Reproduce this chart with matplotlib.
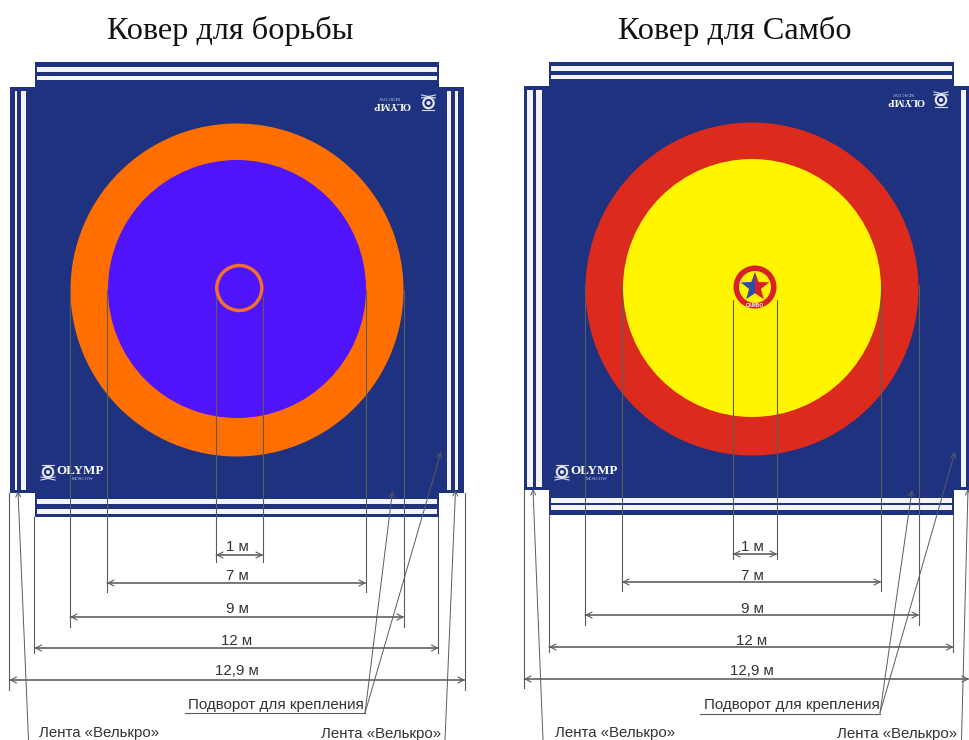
"""Wrestling and sambo mat diagrams, drawn in image pixel coordinates."""

import matplotlib

matplotlib.use("Agg")
import matplotlib.pyplot as plt
import numpy as np
from matplotlib.patches import Circle, Polygon, Rectangle

TITLES = ["Ковер для борьбы", "Ковер для Самбо"]
DIM_LABELS = ["1 м", "7 м", "9 м", "12 м", "12,9 м"]
FLAP_LABEL = "Подворот для крепления"
TAPE_LABEL = "Лента «Велькро»"

# x ends of the dimension lines, one list per mat
LEFT_DIM_X0 = [216, 107, 70, 34.5, 9.5]
LEFT_DIM_X1 = [263, 366, 404, 438.5, 465]
RIGHT_DIM_X0 = [733, 622, 585, 549, 524]
RIGHT_DIM_X1 = [777, 881, 919, 953.5, 969]
LEFT_DIM_Y = [555, 583, 617, 648, 680]
RIGHT_DIM_Y = [554, 582, 615, 647, 679]
DIM_TEXT_Y = [547, 576, 609, 641, 671]

NAVY = "#1e3280"
LINE = "#5c5c5c"
TEXT = "#333333"
STRIPE = "#f4f4fa"
W, H = 969, 740


def rect(ax, x0, y0, x1, y1, color, z=1):
    ax.add_patch(Rectangle((x0, y0), x1 - x0, y1 - y0, fc=color, ec="none", zorder=z))


def draw_logo(ax, x, y, flip=False, scale=1.0, text_dx=32):
    """White OLYMP mark; x, y is the middle of the emblem."""
    sign = -1 if flip else 1
    rot = 180 if flip else 0
    ax.add_patch(Circle((x, y), 5.2, fc="none", ec="#e8e8f2", lw=1.5, zorder=4))
    ax.add_patch(Circle((x, y), 2, fc="#e8e8f2", ec="none", zorder=4))
    ax.plot([x - 7, x + 7], [y + 8 * sign, y + 5 * sign], color="#d8d8e8", lw=0.8, zorder=4)
    ax.plot([x - 7, x + 7], [y + 5 * sign, y + 8 * sign], color="#d8d8e8", lw=0.8, zorder=4)
    ax.plot([x - 6, x + 6], [y - 7 * sign, y - 7 * sign], color="#d8d8e8", lw=0.8, zorder=4)
    ax.text(x + text_dx * sign, y - 1 * sign, "OLYMP", color="white", family="Liberation Serif",
            fontsize=9.4 * scale, fontweight="bold", ha="center", va="center", rotation=rot, zorder=4)
    ax.text(x + (text_dx + 3) * sign, y + 6.5 * sign, "MOSCOW", color="#c9cde0",
            family="Liberation Serif", fontsize=3.5, ha="center", va="center", rotation=rot, zorder=4)


def draw_mat(ax, x0, x1, top, y0, y1, bottom, side, stripes_y, side_left, side_right):
    rect(ax, x0, top, x1, bottom, NAVY)
    rect(ax, x0 - side, y0, x1 + side, y1, NAVY)
    for a, b in stripes_y:
        rect(ax, x0 + 2, a, x1 - 2, b, STRIPE, 2)
    for a, b in side_left + side_right:
        rect(ax, a, y0 + 4, b, y1 - 3, STRIPE, 2)


def draw_dims(ax, xs0, xs1, ys, text_x, starts, ends):
    style = "->,head_length=0.35,head_width=0.18"
    for i, label in enumerate(DIM_LABELS):
        ax.annotate("", xy=(xs0[i], ys[i]), xytext=(xs1[i], ys[i]), zorder=6,
                    arrowprops=dict(arrowstyle=style, color=LINE, lw=0.8,
                                    shrinkA=0, shrinkB=0, mutation_scale=12))
        ax.annotate("", xy=(xs1[i], ys[i]), xytext=(xs0[i], ys[i]), zorder=6,
                    arrowprops=dict(arrowstyle=style, color=LINE, lw=0.8,
                                    shrinkA=0, shrinkB=0, mutation_scale=12))
        ax.plot([xs0[i], xs0[i]], [starts[i], ends[i]], color=LINE, lw=0.8, zorder=5)
        ax.plot([xs1[i], xs1[i]], [starts[i], ends[i]], color=LINE, lw=0.8, zorder=5)
        ax.text(text_x, DIM_TEXT_Y[i], label, fontsize=10.8, color=TEXT, ha="center", va="center")


def leader(ax, start, end):
    ax.annotate("", xy=end, xytext=start, zorder=6,
                arrowprops=dict(arrowstyle="->,head_length=0.3,head_width=0.15", color=LINE,
                                lw=0.7, shrinkA=0, shrinkB=0, mutation_scale=12))


def draw_sambo_emblem(ax, cx, cy):
    ax.add_patch(Circle((cx, cy), 21.5, fc="#d8202a", ec="none", zorder=4))
    ax.add_patch(Circle((cx, cy), 16, fc="#fff200", ec="none", zorder=4))
    angles = np.deg2rad(np.arange(-90, 270, 36))
    radii = np.where(np.arange(10) % 2 == 0, 15, 6.2)
    star = np.column_stack([cx + radii * np.cos(angles), cy + radii * np.sin(angles)])
    ax.add_patch(Polygon(star[[0, 1, 2, 3, 4, 5]], fc="#d8202a", ec="none", zorder=5))
    ax.add_patch(Polygon(star[[5, 6, 7, 8, 9, 0]], fc="#2b4cb0", ec="none", zorder=5))
    ax.text(cx, cy + 18.5, "САМБО", color="white", fontsize=3.4, fontweight="bold",
            ha="center", va="center", zorder=6)


plt.rcParams["font.family"] = ["Liberation Sans", "DejaVu Sans"]
fig = plt.figure(figsize=(W / 100, H / 100), dpi=100)
ax = fig.add_axes([0, 0, 1, 1])
ax.set_xlim(0, W)
ax.set_ylim(H, 0)
ax.axis("off")

ax.text(230, 31, TITLES[0], family="Liberation Serif", fontsize=23.2, color="#111111",
        ha="center", va="center")
ax.text(734.5, 31, TITLES[1], family="Liberation Serif", fontsize=23.2, color="#111111",
        ha="center", va="center")

# wrestling mat
draw_mat(ax, 35, 439, 62, 87, 493, 517, 25,
         [(66.5, 71.5), (75.5, 80), (499, 504), (509, 514)],
         [(15, 17.5), (21, 26)], [(447.5, 451.5), (455, 458)])
ax.add_patch(Circle((237, 290), 166.5, fc="#ff6f00", ec="none", zorder=3))
ax.add_patch(Circle((237, 289), 129, fc="#5014fa", ec="none", zorder=3))
ax.add_patch(Circle((239.3, 288), 22.5, fc="none", ec="#f2702a", lw=2.5, zorder=6))
draw_logo(ax, 48, 472)
draw_logo(ax, 428.5, 103, flip=True, scale=0.8, text_dx=37)
draw_dims(ax, LEFT_DIM_X0, LEFT_DIM_X1, LEFT_DIM_Y, 237,
          [297, 290, 290, 517, 493], [562, 592, 627, 653, 690])
ax.plot([185, 365], [713, 713], color=LINE, lw=0.8)
ax.text(275.5, 705, FLAP_LABEL, fontsize=10.9, color=TEXT, ha="center", va="center")
leader(ax, (365, 713), (392.5, 491))
leader(ax, (365, 713), (441, 452))
ax.text(99, 733, TAPE_LABEL, fontsize=10.8, color=TEXT, ha="center", va="center")
ax.text(381, 734, TAPE_LABEL, fontsize=10.8, color=TEXT, ha="center", va="center")
leader(ax, (28.5, 740), (18, 491))
leader(ax, (445, 740), (455.5, 490))

# sambo mat
draw_mat(ax, 549, 954, 62, 86, 490, 515, 25,
         [(65.5, 70.5), (74.5, 79), (498, 503), (505, 509.5)],
         [(527.5, 533), (536.5, 542.5)], [(961.5, 966.5)])
ax.add_patch(Circle((752, 289), 166.5, fc="#dc2a1c", ec="none", zorder=3))
ax.add_patch(Circle((752, 288), 129, fc="#fff500", ec="none", zorder=3))
draw_sambo_emblem(ax, 755, 287)
draw_logo(ax, 562, 472)
draw_logo(ax, 941, 100, flip=True, scale=0.8, text_dx=35)
draw_dims(ax, RIGHT_DIM_X0, RIGHT_DIM_X1, RIGHT_DIM_Y, 752,
          [300, 285, 285, 515, 490], [559, 591, 625, 652, 688])
ax.plot([700, 880], [713.5, 713.5], color=LINE, lw=0.8)
ax.text(792, 705, FLAP_LABEL, fontsize=10.9, color=TEXT, ha="center", va="center")
leader(ax, (880, 713), (912, 490))
leader(ax, (880, 713), (955, 452))
ax.text(615, 733, TAPE_LABEL, fontsize=10.8, color=TEXT, ha="center", va="center")
ax.text(897, 734, TAPE_LABEL, fontsize=10.8, color=TEXT, ha="center", va="center")
leader(ax, (543, 740), (533, 489))
leader(ax, (961.5, 740), (968, 489))

fig.savefig("out.png", dpi=100)
plt.close(fig)
